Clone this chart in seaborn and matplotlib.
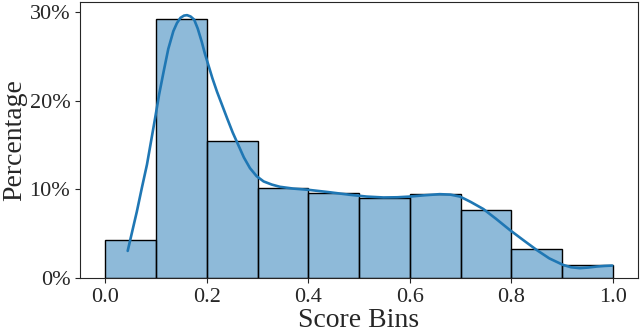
import numpy as np
import pandas as pd
import matplotlib
matplotlib.use("Agg")
import matplotlib.pyplot as plt
import seaborn as sns
from matplotlib.ticker import PercentFormatter

# bin data (percent of samples per score bin)
bin_edges = [0.0, 0.1, 0.2, 0.3, 0.4, 0.5, 0.6, 0.7, 0.8, 0.9, 1.0]
bin_pct = [4.33, 29.2, 15.47, 10.18, 9.58, 9.06, 9.47, 7.71, 3.28, 1.52]

# density curve (already scaled to percent)
kde_x = [0.044, 0.053, 0.062, 0.072, 0.082, 0.090, 0.098, 0.106, 0.115, 0.124,
         0.134, 0.141, 0.148, 0.155, 0.161, 0.168, 0.175, 0.182, 0.190, 0.196,
         0.203, 0.211, 0.220, 0.230, 0.240, 0.251, 0.262, 0.273, 0.285, 0.298,
         0.312, 0.328, 0.344, 0.370, 0.400, 0.440, 0.482, 0.515, 0.548, 0.575,
         0.600, 0.630, 0.659, 0.680, 0.699, 0.720, 0.745, 0.770, 0.797, 0.825,
         0.850, 0.875, 0.902, 0.918, 0.935, 0.952, 0.968, 0.984, 0.999]
kde_y = [3.09, 5.3, 7.5, 10.2, 12.8, 15.4, 18.0, 20.7, 23.3, 25.8,
         27.8, 28.7, 29.3, 29.55, 29.6, 29.45, 29.1, 28.1, 26.6, 25.3,
         24.0, 22.5, 21.0, 19.5, 18.0, 16.4, 15.0, 13.6, 12.4, 11.5,
         10.9, 10.55, 10.3, 10.1, 9.96, 9.7, 9.4, 9.2, 9.1, 9.12,
         9.2, 9.35, 9.47, 9.42, 9.2, 8.6, 7.8, 6.7, 5.45, 4.25,
         3.2, 2.25, 1.52, 1.25, 1.15, 1.22, 1.33, 1.4, 1.44]

centers = [(a + b) / 2 for a, b in zip(bin_edges[:-1], bin_edges[1:])]
df = pd.DataFrame({"score": centers, "pct": bin_pct})
curve = pd.DataFrame({"x": kde_x, "y": kde_y})

sns.set_style("ticks")
plt.rcParams["font.family"] = ["Liberation Serif", "DejaVu Serif"]

fig = plt.figure(figsize=(6.4, 3.33), dpi=100)
ax = fig.add_axes([0.125, 0.164, 0.872, 0.830])

sns.histplot(data=df, x="score", weights="pct", bins=bin_edges, stat="count",
             color="#1f77b4", alpha=0.5, edgecolor="black", linewidth=1.0, ax=ax)
sns.lineplot(data=curve, x="x", y="y", color="#1f77b4", linewidth=1.9, ax=ax)

ax.yaxis.set_major_formatter(PercentFormatter(100, decimals=0))
ax.set_xticks([0.0, 0.2, 0.4, 0.6, 0.8, 1.0])
ax.set_yticks([0, 10, 20, 30])
ax.tick_params(labelsize=16)
ax.set_xlabel("Score Bins", fontsize=20, labelpad=1)
ax.set_ylabel("Percentage", fontsize=20, labelpad=2)

fig.savefig("out.png", dpi=100)
